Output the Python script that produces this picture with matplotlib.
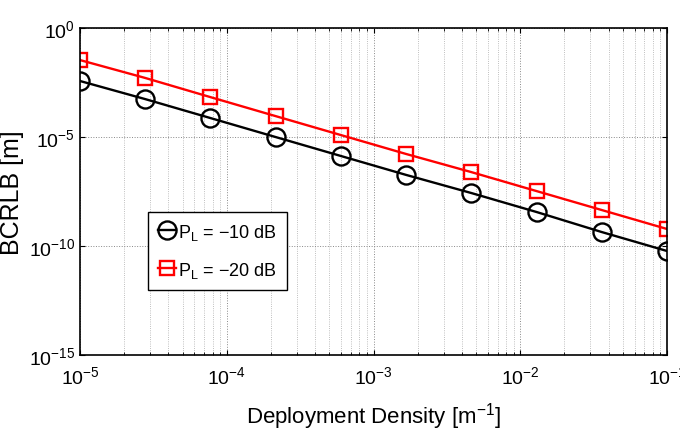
import numpy as np
import matplotlib
matplotlib.use("Agg")
import matplotlib.pyplot as plt
from matplotlib.ticker import LogLocator, NullLocator

plt.rcParams['font.family'] = ['Liberation Sans', 'DejaVu Sans']
plt.rcParams['mathtext.fontset'] = 'custom'
plt.rcParams['mathtext.rm'] = 'Liberation Sans'
plt.rcParams['mathtext.it'] = 'Liberation Sans'

# 데이터 (그림에서 읽은 값, log10 단위)
density = [1e-5, 2.78e-5, 7.74e-5, 2.15e-4, 5.99e-4, 1.67e-3, 4.64e-3, 1.29e-2, 3.59e-2, 1e-1]
log_bcrlb_10db = [-2.43, -3.26, -4.13, -5.00, -5.87, -6.74, -7.57, -8.44, -9.36, -10.23]
log_bcrlb_20db = [-1.47, -2.29, -3.17, -4.04, -4.91, -5.78, -6.61, -7.48, -8.35, -9.22]
labels = [r'P$_{\mathregular{L}}$ = $-$10 dB', r'P$_{\mathregular{L}}$ = $-$20 dB']

fig = plt.figure(figsize=(6.8, 4.35), dpi=100)
ax = fig.add_axes([0.1176, 0.1816, 0.8634, 0.7517])

ax.loglog(density, 10.0 ** np.array(log_bcrlb_10db), 'k-o', lw=1.7,
          markersize=13, markerfacecolor='none', markeredgewidth=1.7, label=labels[0])
ax.loglog(density, 10.0 ** np.array(log_bcrlb_20db), 'r-s', lw=1.7,
          markersize=10.5, markerfacecolor='none', markeredgewidth=1.7, label=labels[1])

ax.set_xlim(1e-5, 1e-1)
ax.set_ylim(1e-15, 1e0)
ax.set_yticks([1e-15, 1e-10, 1e-5, 1e0])
ax.yaxis.set_minor_locator(NullLocator())
ax.xaxis.set_major_locator(LogLocator(base=10, numticks=10))
ax.xaxis.set_minor_locator(LogLocator(base=10, subs=np.arange(2, 10), numticks=20))

ax.grid(True, which='major', axis='both', ls=':', color='#888888', lw=0.7)
ax.grid(True, which='minor', axis='x', ls=':', color='#aaaaaa', lw=0.6)
ax.tick_params(which='both', direction='in', top=True, right=True, labelsize=14)
ax.tick_params(axis='x', pad=7)
for s in ax.spines.values():
    s.set_linewidth(1.2)

ax.set_xlabel(r'Deployment Density [m$^{-1}$]', fontsize=16, labelpad=10)
ax.set_ylabel('BCRLB [m]', fontsize=18, labelpad=3)

leg = ax.legend(loc='lower left', bbox_to_anchor=(0.116, 0.2), borderaxespad=0,
                fontsize=13, handlelength=1.0, handletextpad=0.1, borderpad=0.55,
                labelspacing=1.0, fancybox=False, edgecolor='black', framealpha=1)
leg.get_frame().set_linewidth(1.0)

plt.savefig('out.png', dpi=100)
